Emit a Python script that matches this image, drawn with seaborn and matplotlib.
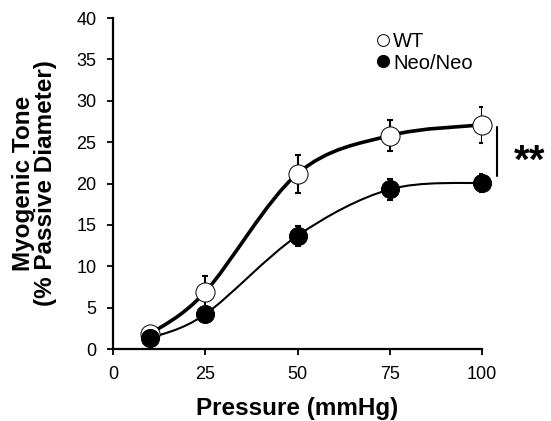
import numpy as np
import pandas as pd
import matplotlib
matplotlib.use("Agg")
import matplotlib.pyplot as plt
from matplotlib.path import Path
from matplotlib.patches import PathPatch
import seaborn as sns

pressure = [10, 25, 50, 75, 100]
wt_tone = [1.8, 6.9, 21.2, 25.8, 27.1]
wt_err = [0.4, 1.9, 2.3, 1.9, 2.2]
neo_tone = [1.3, 4.2, 13.7, 19.3, 20.1]
neo_err = [0.3, 0.8, 1.2, 1.3, 1.1]

sns.set_style("ticks")
plt.rcParams['font.family'] = ['Liberation Sans', 'DejaVu Sans']
plt.rcParams['text.color'] = 'black'
plt.rcParams['axes.labelcolor'] = 'black'


def smooth_curve(ax, x, y, lw):
    # Excel style smoothed line: cubic bezier segments through the points
    x = np.asarray(x, float)
    y = np.asarray(y, float)
    n = len(x)
    verts = [(x[0], y[0])]
    codes = [Path.MOVETO]
    t = 1 / 6
    for i in range(n - 1):
        x0, y0 = (x[i - 1], y[i - 1]) if i > 0 else (x[i], y[i])
        x3, y3 = (x[i + 2], y[i + 2]) if i + 2 < n else (x[i + 1], y[i + 1])
        c1 = (x[i] + (x[i + 1] - x0) * t, y[i] + (y[i + 1] - y0) * t)
        c2 = (x[i + 1] - (x3 - x[i]) * t, y[i + 1] - (y3 - y[i]) * t)
        verts += [c1, c2, (x[i + 1], y[i + 1])]
        codes += [Path.CURVE4] * 3
    ax.add_patch(PathPatch(Path(verts, codes), fill=False, lw=lw,
                           edgecolor='black', zorder=2))


fig = plt.figure(figsize=(5.51, 4.21), dpi=100)
ax = fig.add_axes([0.205, 0.171, 0.67, 0.786])

smooth_curve(ax, pressure, wt_tone, 2.6)
smooth_curve(ax, pressure, neo_tone, 1.5)

ax.errorbar(pressure, wt_tone, yerr=wt_err, fmt='none', ecolor='black',
            elinewidth=1.5, capsize=2, capthick=1.5, zorder=3)
ax.errorbar(pressure, neo_tone, yerr=neo_err, fmt='none', ecolor='black',
            elinewidth=1.5, capsize=2, capthick=1.5, zorder=3)

df = pd.DataFrame({'Pressure': pressure * 2,
                   'Tone': wt_tone + neo_tone,
                   'Group': ['WT'] * 5 + ['Neo/Neo'] * 5})
sns.scatterplot(data=df[df.Group == 'WT'], x='Pressure', y='Tone', ax=ax,
                s=190, color='white', edgecolor='black', linewidth=0.7,
                zorder=4, legend=False, clip_on=False)
sns.scatterplot(data=df[df.Group == 'Neo/Neo'], x='Pressure', y='Tone', ax=ax,
                s=170, color='black', edgecolor='black', linewidth=0.7,
                zorder=4, legend=False, clip_on=False)

# legend
h1 = plt.Line2D([], [], marker='o', ls='none', mfc='white', mec='black',
                ms=8.5, mew=0.7)
h2 = plt.Line2D([], [], marker='o', ls='none', mfc='black', mec='black',
                ms=8.5)
ax.legend([h1, h2], ['WT', 'Neo/Neo'], loc='upper left',
          bbox_to_anchor=(0.683, 0.982), frameon=False, fontsize=14.5,
          handletextpad=0.0, handlelength=1.0, labelspacing=0.12,
          borderaxespad=0)

# significance marker
ax.plot([104, 104], [20.9, 26.8], color='black', lw=1.5, clip_on=False)
ax.text(108.5, 22.6, '**', fontsize=29, fontweight='bold', va='center',
        ha='left', clip_on=False, color='black')

ax.set_xlim(0, 100)
ax.set_ylim(0, 40)
ax.set_xticks([0, 25, 50, 75, 100])
ax.set_yticks(range(0, 41, 5))
ax.tick_params(axis='both', labelsize=13, length=4, width=1.3,
               color='black', labelcolor='black', pad=8)
for s in ['left', 'bottom']:
    ax.spines[s].set_linewidth(1.6)
    ax.spines[s].set_color('black')
sns.despine(ax=ax)

ax.set_xlabel('Pressure (mmHg)', fontsize=17.5, fontweight='bold', labelpad=10)
ax.set_ylabel('Myogenic Tone\n(% Passive Diameter)', fontsize=17.5,
              fontweight='bold', labelpad=14, linespacing=0.95)

fig.savefig('out.png', dpi=100)
